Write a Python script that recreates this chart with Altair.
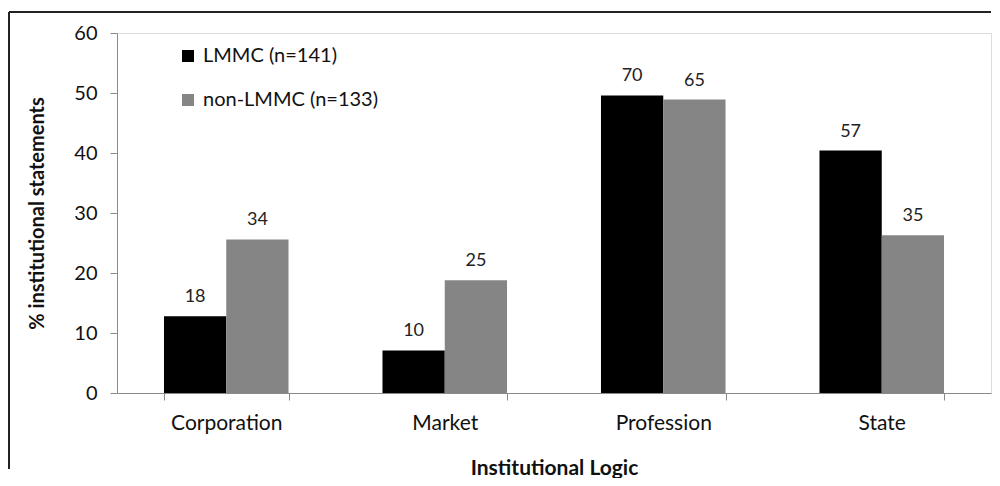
import altair as alt
import pandas as pd

categories = ["Corporation", "Market", "Profession", "State"]
groups = ["LMMC (n=141)", "non-LMMC (n=133)"]
lmmc_counts = [18, 10, 70, 57]
non_counts = [34, 25, 65, 35]
lmmc_pct = [12.8, 7.1, 49.6, 40.4]
non_pct = [25.6, 18.8, 48.9, 26.3]

rows = []
for i, c in enumerate(categories):
    rows.append({"cat": c, "grp": groups[0], "pct": lmmc_pct[i], "n": lmmc_counts[i]})
    rows.append({"cat": c, "grp": groups[1], "pct": non_pct[i], "n": non_counts[i]})
df = pd.DataFrame(rows)

FONT = "Lato"
W, H = 874, 360
pi = 0.43

x = alt.X("cat:N", sort=categories, title="Institutional Logic",
          scale=alt.Scale(paddingInner=pi, paddingOuter=pi / 2),
          axis=alt.Axis(labelAngle=0, tickBand="extent", tickSize=7, labelPadding=12,
                        labelFontSize=21, labelColor="#111", titleFontSize=21,
                        titleFontWeight="bold", titleColor="#111", titlePadding=24,
                        domainColor="#8a8a8a", tickColor="#8a8a8a", labelFont=FONT,
                        titleFont=FONT))
y = alt.Y("pct:Q", title="% institutional statements",
          scale=alt.Scale(domain=[0, 60], nice=False),
          axis=alt.Axis(values=[0, 10, 20, 30, 40, 50, 60], grid=False, tickSize=7,
                        labelPadding=13, labelFontSize=20, labelColor="#111",
                        titleFontSize=20, titleFontWeight="bold", titleColor="#111",
                        titlePadding=26, domainColor="#8a8a8a", tickColor="#8a8a8a",
                        labelFont=FONT, titleFont=FONT))
xo = alt.XOffset("grp:N", sort=groups)

base = alt.Chart(df)
bars = base.mark_bar().encode(
    x=x, xOffset=xo, y=y,
    color=alt.Color("grp:N", sort=groups, title=None,
                    scale=alt.Scale(domain=groups, range=["#000000", "#858585"]),
                    legend=alt.Legend(orient="none", legendX=61, legendY=13,
                                      symbolType="square", symbolSize=144,
                                      symbolStrokeWidth=0, labelFontSize=20,
                                      labelFont=FONT, labelColor="#111",
                                      labelLimit=400, rowPadding=24, labelOffset=5,
                                      padding=0)),
)
labels = base.mark_text(dy=-19, fontSize=18, font=FONT, color="#222").encode(
    x=x, xOffset=xo, y=y, text="n:Q")

frame = pd.DataFrame({"k": [0]})
top_border = alt.Chart(frame).mark_rule(color="#222", strokeWidth=2).encode(
    x=alt.value(-108), x2=alt.value(W), y=alt.value(-21))
left_border = alt.Chart(frame).mark_rule(color="#222", strokeWidth=2).encode(
    x=alt.value(-108), y=alt.value(-21), y2=alt.value(436))

chart = alt.layer(bars, labels, top_border, left_border).properties(
    width=W, height=H, padding={"left": 0, "top": 3, "right": 0, "bottom": 0}
).configure_view(stroke=None).configure(font=FONT)

chart.save("out.html", embed_options={"renderer": "svg", "actions": False})
